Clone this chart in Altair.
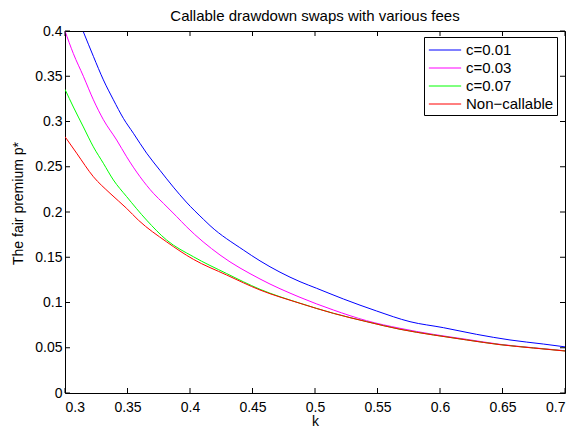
import altair as alt
import pandas as pd

series_names = ["c=0.01", "c=0.03", "c=0.07", "Non\u2212callable"]
series_colors = ["#0000ff", "#ff00ff", "#00ff00", "#ff0000"]

k_c001 = [0.3147, 0.3227, 0.3307, 0.3387, 0.3467, 0.3547, 0.3653, 0.376, 0.3867, 0.397,
          0.4107, 0.416, 0.4427, 0.456, 0.488, 0.5013, 0.5227, 0.5493, 0.576, 0.6027,
          0.6293, 0.656, 0.6827, 0.7]
p_c001 = [0.399, 0.372, 0.346, 0.324, 0.3035, 0.287, 0.265, 0.246, 0.2275, 0.211,
          0.192, 0.185, 0.158, 0.146, 0.123, 0.1157, 0.1039, 0.0906, 0.0788, 0.0722,
          0.0648, 0.0586, 0.0541, 0.051]

k_c003 = [0.3, 0.3067, 0.3147, 0.3227, 0.3307, 0.3413, 0.3493, 0.36, 0.3707, 0.3787,
          0.3893, 0.397, 0.424, 0.456, 0.488, 0.5147, 0.5413, 0.568, 0.5947, 0.6213,
          0.648, 0.6747, 0.7]
p_c003 = [0.4, 0.375, 0.35, 0.324, 0.302, 0.2796, 0.261, 0.239, 0.2207, 0.2096,
          0.195, 0.184, 0.1525, 0.126, 0.1057, 0.0917, 0.0799, 0.0715, 0.0648, 0.0593,
          0.0538, 0.05, 0.0467]

k_c007 = [0.3, 0.3067, 0.3147, 0.3227, 0.3307, 0.3387, 0.3493, 0.3653, 0.3813, 0.4027,
          0.4293, 0.456, 0.488, 0.5147, 0.5413, 0.568, 0.5947, 0.6213, 0.648, 0.6747, 0.7]
p_c007 = [0.3355, 0.316, 0.294, 0.272, 0.2538, 0.2354, 0.217, 0.191, 0.169, 0.1506,
          0.132, 0.1146, 0.0992, 0.0881, 0.0789, 0.0705, 0.0642, 0.0587, 0.0535, 0.0498, 0.0465]

k_nc = [0.3, 0.3093, 0.3227, 0.336, 0.3493, 0.3587, 0.3813, 0.4027, 0.4293, 0.456,
        0.488, 0.5147, 0.5413, 0.568, 0.5947, 0.6213, 0.648, 0.6747, 0.7]
p_nc = [0.2832, 0.265, 0.239, 0.2207, 0.204, 0.191, 0.167, 0.1477, 0.1304, 0.1138,
        0.0991, 0.088, 0.0788, 0.0704, 0.0641, 0.0586, 0.0534, 0.0497, 0.0464]

x_ticks = [0.3, 0.35, 0.4, 0.45, 0.5, 0.55, 0.6, 0.65, 0.7]
y_ticks = [0, 0.05, 0.1, 0.15, 0.2, 0.25, 0.3, 0.35, 0.4]

rows = []
for name, ks, ps in zip(series_names, [k_c001, k_c003, k_c007, k_nc],
                        [p_c001, p_c003, p_c007, p_nc]):
    for i, (k, p) in enumerate(zip(ks, ps)):
        rows.append({"series": name, "k": k, "p": p, "order": i})
df = pd.DataFrame(rows)
xt_df = pd.DataFrame({"k": x_ticks})
yt_df = pd.DataFrame({"p": y_ticks})

FONT = "Liberation Sans"
W, H = 500, 362
TICK = 5

xscale = alt.Scale(domain=[0.3, 0.7], nice=False, zero=False)
yscale = alt.Scale(domain=[0, 0.4], nice=False)

lines = alt.Chart(df).mark_line(strokeWidth=1, clip=True, interpolate="monotone").encode(
    x=alt.X("k:Q", scale=xscale,
            axis=alt.Axis(values=x_ticks, format="~g", title="k", orient="bottom",
                          ticks=False, tickSize=0, domain=False, grid=False,
                          labelPadding=7, titleY=28, titleBaseline="middle")),
    y=alt.Y("p:Q", scale=yscale,
            axis=alt.Axis(values=y_ticks, format="~g", title="The fair premium p*",
                          orient="left", ticks=False, tickSize=0, domain=False,
                          grid=False, labelPadding=3, titleX=-47, titleY=172,
                          titleBaseline="middle")),
    color=alt.Color("series:N",
                    scale=alt.Scale(domain=series_names, range=series_colors),
                    sort=series_names,
                    legend=alt.Legend(title=None, orient="none", legendX=359, legendY=6,
                                      fillColor="white", strokeColor="black",
                                      padding=3, rowPadding=0,
                                      symbolType="M-1.7,0L1.7,0", symbolSize=361,
                                      symbolStrokeWidth=1, symbolOffset=8,
                                      labelOffset=11, labelFontSize=15, labelFont=FONT,
                                      labelColor="black", cornerRadius=0)),
    order="order:Q",
)

tick_style = dict(color="black", strokeWidth=1, opacity=1)
top_ticks = alt.Chart(xt_df).mark_rule(**tick_style).encode(
    x=alt.X("k:Q", scale=xscale), y=alt.value(0), y2=alt.value(TICK))
bottom_ticks = alt.Chart(xt_df).mark_rule(**tick_style).encode(
    x=alt.X("k:Q", scale=xscale), y=alt.value(H - TICK), y2=alt.value(H))
left_ticks = alt.Chart(yt_df).mark_rule(**tick_style).encode(
    y=alt.Y("p:Q", scale=yscale), x=alt.value(0), x2=alt.value(TICK))
right_ticks = alt.Chart(yt_df).mark_rule(**tick_style).encode(
    y=alt.Y("p:Q", scale=yscale), x=alt.value(W - TICK), x2=alt.value(W))

chart = alt.layer(lines, top_ticks, bottom_ticks, left_ticks, right_ticks).properties(
    width=W, height=H,
    title=alt.TitleParams("Callable drawdown swaps with various fees", fontSize=15,
                          font=FONT, fontWeight="normal", color="black", offset=0),
    autosize=alt.AutoSizeParams(type="none"),
    padding={"left": 57, "top": 23, "right": 6, "bottom": 34},
    background="white",
).configure_view(
    stroke="black", strokeWidth=1
).configure_axis(
    labelFont=FONT, labelFontSize=14, labelColor="black",
    titleFont=FONT, titleFontSize=14, titleFontWeight="normal", titleColor="black",
)

chart.save("out.html", embed_options={"renderer": "svg", "actions": False})
